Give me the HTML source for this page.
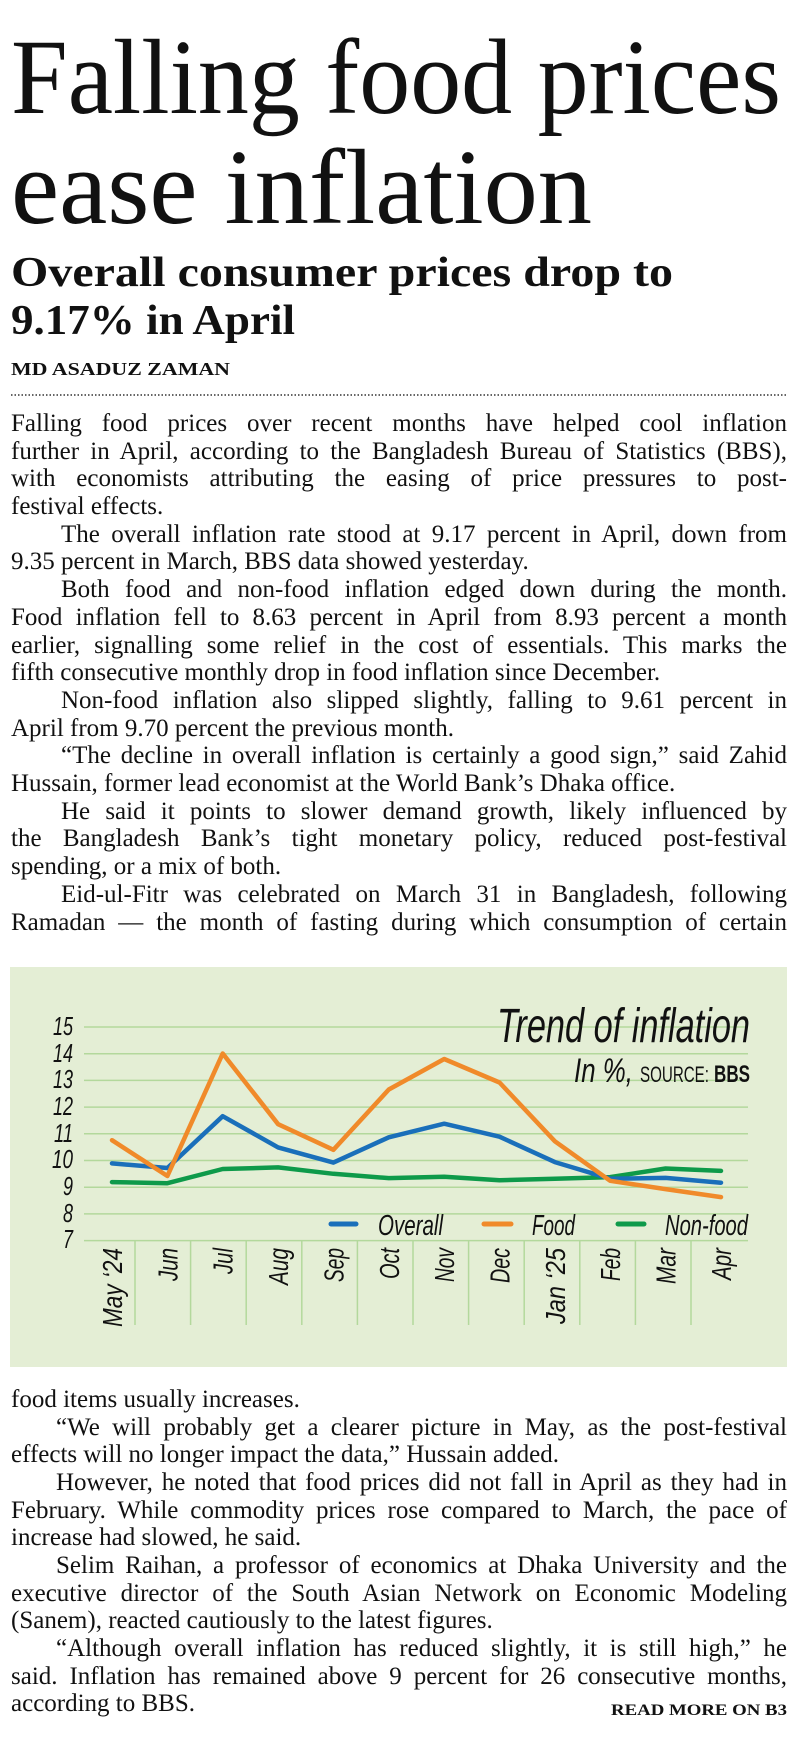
<!DOCTYPE html>
<html><head><meta charset="utf-8"><style>
html,body{margin:0;padding:0;background:#fff;width:797px;height:1740px;overflow:hidden;position:relative}
.l{position:absolute;left:11px;width:776px;font-family:"Liberation Serif",serif;font-size:25px;line-height:28px;color:#111;white-space:nowrap;text-align:justify;text-align-last:justify}
.e{text-align-last:left}
.i{left:61px;width:726px}
.j{left:56px;width:731px}
svg{position:absolute;left:0;top:0}
</style></head><body>
<svg width="797" height="1740" viewBox="0 0 797 1740">
<g font-family="Liberation Serif, serif" fill="#111">
<text x="11" y="113" font-size="107" textLength="770" lengthAdjust="spacingAndGlyphs">Falling food prices</text>
<text x="11" y="223" font-size="107" textLength="581" lengthAdjust="spacingAndGlyphs">ease inflation</text>
<text x="11" y="286" font-size="42" font-weight="bold" textLength="662" lengthAdjust="spacingAndGlyphs">Overall consumer prices drop to</text>
<text x="11" y="334" font-size="42" font-weight="bold" textLength="284" lengthAdjust="spacingAndGlyphs">9.17% in April</text>
<text x="11" y="375" font-size="18" font-weight="bold" textLength="219" lengthAdjust="spacingAndGlyphs">MD ASADUZ ZAMAN</text>
<text x="787" y="1715" font-size="16" font-weight="bold" text-anchor="end" textLength="176" lengthAdjust="spacingAndGlyphs">READ MORE ON B3</text>
</g>
<line x1="11" y1="395" x2="787" y2="395" stroke="#333" stroke-width="1.5" stroke-dasharray="1.5 2"/>
<rect x="10" y="967" width="777" height="400" fill="#e4eed5"/>
<g stroke="#b3d89c" stroke-width="1.5">
<line x1="84" x2="748" y1="1027" y2="1027"/><line x1="84" x2="748" y1="1053.7" y2="1053.7"/>
<line x1="84" x2="748" y1="1080.4" y2="1080.4"/><line x1="84" x2="748" y1="1107.1" y2="1107.1"/>
<line x1="84" x2="748" y1="1133.8" y2="1133.8"/><line x1="84" x2="748" y1="1160.5" y2="1160.5"/>
<line x1="84" x2="748" y1="1187.2" y2="1187.2"/><line x1="84" x2="748" y1="1213.9" y2="1213.9"/>
<line x1="84" x2="748" y1="1240.6" y2="1240.6"/>
<line x1="135" x2="135" y1="1240" y2="1325"/><line x1="190.6" x2="190.6" y1="1240" y2="1325"/>
<line x1="246.2" x2="246.2" y1="1240" y2="1325"/><line x1="301.8" x2="301.8" y1="1240" y2="1325"/>
<line x1="357.4" x2="357.4" y1="1240" y2="1325"/><line x1="413" x2="413" y1="1240" y2="1325"/>
<line x1="468.6" x2="468.6" y1="1240" y2="1325"/><line x1="524.2" x2="524.2" y1="1240" y2="1325"/>
<line x1="579.8" x2="579.8" y1="1240" y2="1325"/><line x1="635.4" x2="635.4" y1="1240" y2="1325"/>
<line x1="691" x2="691" y1="1240" y2="1325"/>
</g>
<g font-family="Liberation Sans Narrow, Liberation Sans, sans-serif" font-style="italic" fill="#111" font-size="26" text-anchor="end">
<text x="73" y="1035" textLength="20" lengthAdjust="spacingAndGlyphs">15</text>
<text x="73" y="1062" textLength="20" lengthAdjust="spacingAndGlyphs">14</text>
<text x="73" y="1088" textLength="20" lengthAdjust="spacingAndGlyphs">13</text>
<text x="73" y="1115" textLength="20" lengthAdjust="spacingAndGlyphs">12</text>
<text x="73" y="1142" textLength="19" lengthAdjust="spacingAndGlyphs">11</text>
<text x="73" y="1168" textLength="21" lengthAdjust="spacingAndGlyphs">10</text>
<text x="73" y="1195" textLength="10" lengthAdjust="spacingAndGlyphs">9</text>
<text x="73" y="1222" textLength="10" lengthAdjust="spacingAndGlyphs">8</text>
<text x="73" y="1248" textLength="10" lengthAdjust="spacingAndGlyphs">7</text>
</g>
<g font-family="Liberation Sans Narrow, Liberation Sans, sans-serif" font-style="italic" fill="#111" font-size="28" text-anchor="end">
<text transform="translate(122,1248) rotate(-90)" textLength="79" lengthAdjust="spacingAndGlyphs">May ‘24</text>
<text transform="translate(177.4,1248) rotate(-90)" textLength="33" lengthAdjust="spacingAndGlyphs">Jun</text>
<text transform="translate(232.7,1248) rotate(-90)" textLength="26" lengthAdjust="spacingAndGlyphs">Jul</text>
<text transform="translate(288.1,1248) rotate(-90)" textLength="37" lengthAdjust="spacingAndGlyphs">Aug</text>
<text transform="translate(343.4,1248) rotate(-90)" textLength="34" lengthAdjust="spacingAndGlyphs">Sep</text>
<text transform="translate(398.8,1248) rotate(-90)" textLength="31" lengthAdjust="spacingAndGlyphs">Oct</text>
<text transform="translate(454.2,1248) rotate(-90)" textLength="34" lengthAdjust="spacingAndGlyphs">Nov</text>
<text transform="translate(509.5,1248) rotate(-90)" textLength="35" lengthAdjust="spacingAndGlyphs">Dec</text>
<text transform="translate(564.9,1248) rotate(-90)" textLength="76" lengthAdjust="spacingAndGlyphs">Jan ‘25</text>
<text transform="translate(620.2,1248) rotate(-90)" textLength="33" lengthAdjust="spacingAndGlyphs">Feb</text>
<text transform="translate(675.6,1248) rotate(-90)" textLength="36" lengthAdjust="spacingAndGlyphs">Mar</text>
<text transform="translate(731,1248) rotate(-90)" textLength="32" lengthAdjust="spacingAndGlyphs">Apr</text>
</g>
<g fill="none" stroke-width="4.5" stroke-linejoin="round" stroke-linecap="round">
<polyline stroke="#0e9a4a" points="112,1182.1 167.4,1183.2 222.7,1169.0 278.1,1167.4 333.4,1173.8 388.8,1178.1 444.2,1176.8 499.5,1180.3 554.9,1178.7 610.2,1177.1 665.6,1168.5 721,1170.9"/>
<polyline stroke="#1a6fba" points="112,1163.4 167.4,1168.0 222.7,1116.2 278.1,1147.4 333.4,1162.6 388.8,1137.3 444.2,1123.7 499.5,1136.7 554.9,1162.1 610.2,1178.7 665.6,1177.9 721,1182.7"/>
<polyline stroke="#f08a2a" points="112,1140.2 167.4,1176.0 222.7,1053.5 278.1,1124.2 333.4,1149.8 388.8,1089.5 444.2,1059.0 499.5,1082.5 554.9,1141.3 610.2,1180.8 665.6,1189.1 721,1197.1"/>
</g>
<g font-family="Liberation Sans Narrow, Liberation Sans, sans-serif" font-style="italic" fill="#111">
<text x="750" y="1042" font-size="48" text-anchor="end" textLength="253" lengthAdjust="spacingAndGlyphs">Trend of inflation</text>
<text x="574" y="1082" font-size="34" textLength="59" lengthAdjust="spacingAndGlyphs">In %,</text>
<text x="640" y="1082" font-size="22" font-style="normal" textLength="69" lengthAdjust="spacingAndGlyphs">SOURCE:</text>
<text x="714" y="1082" font-size="24" font-style="normal" font-weight="bold" textLength="36" lengthAdjust="spacingAndGlyphs">BBS</text>
<text x="378" y="1235" font-size="29" textLength="65" lengthAdjust="spacingAndGlyphs">Overall</text>
<text x="532" y="1235" font-size="29" textLength="43" lengthAdjust="spacingAndGlyphs">Food</text>
<text x="665" y="1235" font-size="29" textLength="83" lengthAdjust="spacingAndGlyphs">Non-food</text>
</g>
<g stroke-width="5" stroke-linecap="round">
<line x1="331" x2="356" y1="1224" y2="1224" stroke="#1a6fba"/>
<line x1="484" x2="511" y1="1224" y2="1224" stroke="#f08a2a"/>
<line x1="618" x2="644" y1="1224" y2="1224" stroke="#0e9a4a"/>
</g>
</svg>
<div class="l" style="top:410px">Falling food prices over recent months have helped cool inflation</div>
<div class="l" style="top:438px">further in April, according to the Bangladesh Bureau of Statistics (BBS),</div>
<div class="l" style="top:465px">with economists attributing the easing of price pressures to post-</div>
<div class="l e" style="top:493px">festival effects.</div>
<div class="l i" style="top:521px">The overall inflation rate stood at 9.17 percent in April, down from</div>
<div class="l e" style="top:548px">9.35 percent in March, BBS data showed yesterday.</div>
<div class="l i" style="top:576px">Both food and non-food inflation edged down during the month.</div>
<div class="l" style="top:604px">Food inflation fell to 8.63 percent in April from 8.93 percent a month</div>
<div class="l" style="top:632px">earlier, signalling some relief in the cost of essentials. This marks the</div>
<div class="l e" style="top:659px">fifth consecutive monthly drop in food inflation since December.</div>
<div class="l i" style="top:687px">Non-food inflation also slipped slightly, falling to 9.61 percent in</div>
<div class="l e" style="top:715px">April from 9.70 percent the previous month.</div>
<div class="l i" style="top:742px">“The decline in overall inflation is certainly a good sign,” said Zahid</div>
<div class="l e" style="top:770px">Hussain, former lead economist at the World Bank’s Dhaka office.</div>
<div class="l i" style="top:798px">He said it points to slower demand growth, likely influenced by</div>
<div class="l" style="top:825px">the Bangladesh Bank’s tight monetary policy, reduced post-festival</div>
<div class="l e" style="top:853px">spending, or a mix of both.</div>
<div class="l i" style="top:881px">Eid-ul-Fitr was celebrated on March 31 in Bangladesh, following</div>
<div class="l" style="top:909px">Ramadan — the month of fasting during which consumption of certain</div>
<div class="l e" style="top:1386px">food items usually increases.</div>
<div class="l j" style="top:1414px">“We will probably get a clearer picture in May, as the post-festival</div>
<div class="l e" style="top:1441px">effects will no longer impact the data,” Hussain added.</div>
<div class="l j" style="top:1469px">However, he noted that food prices did not fall in April as they had in</div>
<div class="l" style="top:1497px">February. While commodity prices rose compared to March, the pace of</div>
<div class="l e" style="top:1524px">increase had slowed, he said.</div>
<div class="l j" style="top:1552px">Selim Raihan, a professor of economics at Dhaka University and the</div>
<div class="l" style="top:1580px">executive director of the South Asian Network on Economic Modeling</div>
<div class="l e" style="top:1607px">(Sanem), reacted cautiously to the latest figures.</div>
<div class="l j" style="top:1635px">“Although overall inflation has reduced slightly, it is still high,” he</div>
<div class="l" style="top:1663px">said. Inflation has remained above 9 percent for 26 consecutive months,</div>
<div class="l e" style="top:1690px">according to BBS.</div>
</body></html>
